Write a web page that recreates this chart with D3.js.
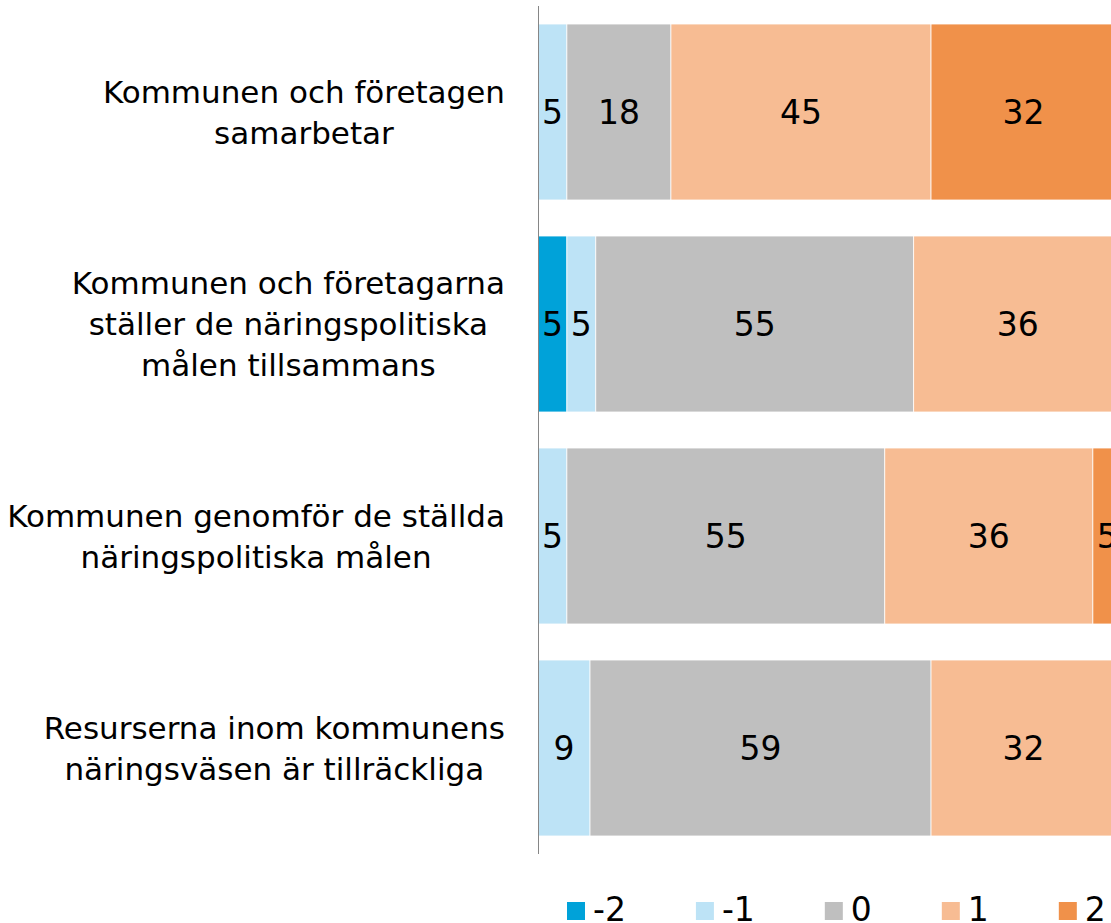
<!DOCTYPE html>
<html>
<head>
<meta charset="utf-8">
<script src="https://cdn.jsdelivr.net/npm/d3@7"></script>
<style>
	body { margin: 0; background: #fff; }
	svg text { font-family: "DejaVu Sans", sans-serif; fill: #000; }
</style>
</head>
<body>
<svg id="chart" width="1111" height="923"></svg>
<script>
// Categories (one entry per bar, each line of the label is an element)
var categories = [
	['Kommunen och företagen', 'samarbetar'],
	['Kommunen och företagarna', 'ställer de näringspolitiska', 'målen tillsammans'],
	['Kommunen genomför de ställda', 'näringspolitiska målen'],
	['Resurserna inom kommunens', 'näringsväsen är tillräckliga']
];

// Series keys and colours
var seriesKeys = ['-2', '-1', '0', '1', '2'];
var seriesColors = ['#00a2d9', '#bde3f6', '#bfbfbf', '#f7bc93', '#f0914a'];

// Percent values per series (one value per category)
var valuesMinus2 = [0, 5, 0, 0];
var valuesMinus1 = [5, 5, 5, 9];
var values0 = [18, 55, 55, 59];
var values1 = [45, 36, 36, 32];
var values2 = [32, 0, 5, 0];

var seriesValues = [valuesMinus2, valuesMinus1, values0, values1, values2];

var svg = d3.select('#chart');

// Build the table that d3.stack needs
var rows = categories.map(function(c, i) {
	var r = { idx: i };
	seriesKeys.forEach(function(k, j) { r[k] = seriesValues[j][i]; });
	return r;
});

var stacked = d3.stack().keys(seriesKeys)(rows);

var x = d3.scaleLinear().domain([0, 100]).range([538, 1116]);
var y = d3.scaleBand()
	.domain(d3.range(categories.length))
	.range([6, 854])
	.paddingInner(0.17)
	.paddingOuter(0.085);

// Bars
var layers = svg.append('g').selectAll('g')
	.data(stacked)
	.join('g')
	.attr('fill', function(d, i) { return seriesColors[i]; });

layers.selectAll('rect')
	.data(function(d) { return d.filter(function(s) { return s[1] - s[0] > 0; }); })
	.join('rect')
	.attr('x', function(d) { return x(d[0]); })
	.attr('y', function(d) { return y(d.data.idx); })
	.attr('width', function(d) { return x(d[1]) - x(d[0]); })
	.attr('height', y.bandwidth())
	.attr('stroke', '#fff')
	.attr('stroke-width', 0.75);

// Data labels
layers.selectAll('text')
	.data(function(d) { return d.filter(function(s) { return s[1] - s[0] > 0; }); })
	.join('text')
	.attr('x', function(d) { return (x(d[0]) + x(d[1])) / 2; })
	.attr('y', function(d) { return y(d.data.idx) + y.bandwidth() / 2; })
	.attr('dy', '0.36em')
	.attr('text-anchor', 'middle')
	.style('font-size', '33px')
	.text(function(d) { return d[1] - d[0]; });

// Vertical axis line
svg.append('line')
	.attr('x1', 538.5).attr('x2', 538.5)
	.attr('y1', 6).attr('y2', 854)
	.attr('stroke', '#868686')
	.attr('stroke-width', 1);

// Category labels: block right aligned, lines centred
var lineH = 41;
var labelRight = 505;
var catGroups = svg.append('g').selectAll('g')
	.data(categories)
	.join('g');

catGroups.each(function(lines, i) {
	var g = d3.select(this);
	var t = g.selectAll('text')
		.data(lines)
		.join('text')
		.style('font-size', '31px')
		.attr('text-anchor', 'middle')
		.attr('y', function(d, k) {
			return y(i) + y.bandwidth() / 2 + (k - (lines.length - 1) / 2) * lineH;
		})
		.attr('dy', '0.36em')
		.text(function(d) { return d; });
	var maxW = d3.max(t.nodes(), function(n) { return n.getComputedTextLength(); });
	t.attr('x', labelRight - maxW / 2);
});

// Legend
var legend = svg.append('g');
var lx = 567;
seriesKeys.forEach(function(k, i) {
	legend.append('rect')
		.attr('x', lx).attr('y', 902)
		.attr('width', 18).attr('height', 18)
		.attr('fill', seriesColors[i]);
	var t = legend.append('text')
		.attr('x', lx + 26)
		.attr('y', 921)
		.style('font-size', '33px')
		.text(k);
	lx += 18 + 8 + t.node().getComputedTextLength() + 70;
});
</script>
</body>
</html>
